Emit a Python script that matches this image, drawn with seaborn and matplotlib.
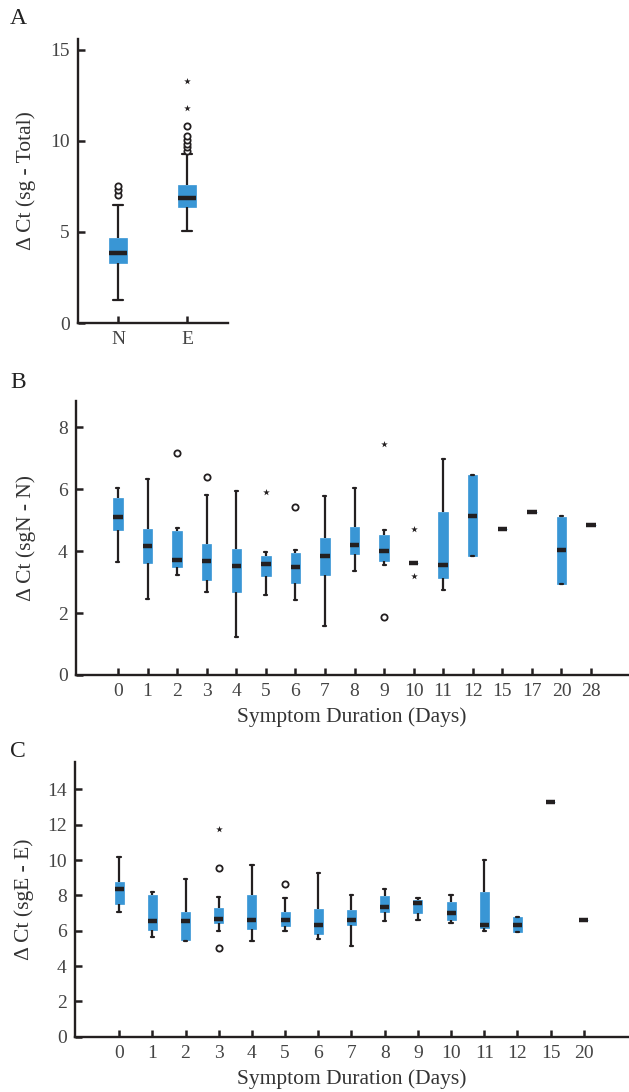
import matplotlib
matplotlib.use("Agg")
import matplotlib.pyplot as plt
import seaborn as sns
import numpy as np
import pandas as pd

# Five-number summaries: low whisker, Q1, median, Q3, high whisker

# Panel A - sg vs total, N and E genes
genes_a = ["N", "E"]
low_a = [1.25, 5.06]
q1_a = [3.30, 6.35]
med_a = [3.85, 6.84]
q3_a = [4.69, 7.56]
high_a = [6.47, 9.28]
circ_x_a = ["N", "N", "N", "E", "E", "E", "E", "E", "E"]
circ_y_a = [7.05, 7.33, 7.55, 9.45, 9.65, 9.85, 10.05, 10.25, 10.82]
star_x_a = ["E", "E"]
star_y_a = [11.79, 13.31]

# Panel B - sgN - N by symptom duration
days_b = ["0", "1", "2", "3", "4", "5", "6", "7", "8", "9", "10", "11", "12", "15", "17", "20", "28"]
low_b = [3.64, 2.46, 3.23, 2.68, 1.24, 2.59, 2.42, 1.59, 3.37, 3.56, 3.63, 2.76, 3.84, 4.70, 5.27, 2.94, 4.84]
q1_b = [4.68, 3.63, 3.50, 3.07, 2.69, 3.20, 2.98, 3.24, 3.90, 3.69, 3.63, 3.14, 3.84, 4.70, 5.27, 2.94, 4.84]
med_b = [5.11, 4.18, 3.71, 3.68, 3.52, 3.58, 3.49, 3.85, 4.21, 4.02, 3.63, 3.55, 5.15, 4.70, 5.27, 4.05, 4.84]
q3_b = [5.72, 4.70, 4.64, 4.23, 4.06, 3.84, 3.94, 4.41, 4.78, 4.52, 3.63, 5.26, 6.46, 4.70, 5.27, 5.11, 4.84]
high_b = [6.05, 6.34, 4.74, 5.81, 5.94, 3.98, 4.04, 5.78, 6.03, 4.68, 3.63, 6.96, 6.46, 4.70, 5.27, 5.13, 4.84]
circ_x_b = ["2", "3", "6", "9"]
circ_y_b = [7.18, 6.40, 5.44, 1.88]
star_x_b = ["5", "9", "10", "10"]
star_y_b = [5.92, 7.46, 4.70, 3.19]

# Panel C - sgE - E by symptom duration
days_c = ["0", "1", "2", "3", "4", "5", "6", "7", "8", "9", "10", "11", "12", "15", "20"]
low_c = [7.08, 5.62, 5.40, 5.98, 5.40, 5.98, 5.51, 5.15, 6.55, 6.62, 6.43, 5.96, 5.92, 13.28, 6.60]
q1_c = [7.53, 6.06, 5.50, 6.45, 6.11, 6.28, 5.83, 6.34, 7.08, 7.02, 6.62, 6.17, 5.92, 13.28, 6.60]
med_c = [8.34, 6.55, 6.55, 6.68, 6.58, 6.58, 6.32, 6.60, 7.36, 7.58, 7.02, 6.34, 6.34, 13.28, 6.60]
q3_c = [8.74, 8.00, 7.08, 7.26, 8.02, 7.04, 7.21, 7.15, 7.96, 7.72, 7.60, 8.17, 6.75, 13.28, 6.60]
high_c = [10.19, 8.17, 8.92, 7.89, 9.74, 7.87, 9.25, 8.02, 8.34, 7.83, 8.04, 9.98, 6.79, 13.28, 6.60]
circ_x_c = ["3", "3", "5"]
circ_y_c = [9.57, 5.00, 8.62]
star_x_c = ["3"]
star_y_c = [11.75]

BLUE = "#3996d5"
DARK = "#231f20"

sns.set_style("ticks")
plt.rcParams["font.family"] = ["Liberation Serif", "DejaVu Serif"]


def draw_panel(ax, cats, low, q1, med, q3, high, cx, cy, sx, sy, width, capw):
    # each group is given as its five-number summary, so whiskers go to min / max
    rows = []
    for c, vals in zip(cats, zip(low, q1, med, q3, high)):
        for v in vals:
            rows.append((c, v))
    df = pd.DataFrame(rows, columns=["cat", "val"])

    sns.boxplot(data=df, x="cat", y="val", order=cats, whis=np.inf, width=width,
                saturation=1, color=BLUE, linecolor=DARK, linewidth=1.6,
                showfliers=False, capwidths=capw,
                boxprops=dict(edgecolor=BLUE, linewidth=0.5),
                medianprops=dict(color=DARK, linewidth=3.2),
                ax=ax)
    sns.stripplot(x=cx, y=cy, order=cats, jitter=False, marker="o", color="white",
                  edgecolor=DARK, linewidth=1.3, size=4.5, ax=ax)
    sns.stripplot(x=sx, y=sy, order=cats, jitter=False, marker="*", color=DARK,
                  edgecolor=DARK, linewidth=0, size=5, ax=ax)

    sns.despine(ax=ax)
    for s in ["left", "bottom"]:
        ax.spines[s].set_linewidth(1.7)
        ax.spines[s].set_color(DARK)
    ax.tick_params(direction="in", length=5, width=1.8, color=DARK,
                   labelsize=14, labelcolor="#444444", pad=6)


fig = plt.figure(figsize=(6.29, 10.92), dpi=100)

ax_a = fig.add_axes([0.124, 0.7042, 0.2385, 0.2601])
draw_panel(ax_a, genes_a, low_a, q1_a, med_a, q3_a, high_a,
           circ_x_a, circ_y_a, star_x_a, star_y_a, 0.26, 0.14)
ax_a.set_xlim(-0.58, 1.59)
ax_a.set_ylim(0, 15.6)
ax_a.set_yticks([0, 5, 10, 15])
ax_a.set_xlabel("")
ax_a.set_ylabel("Δ Ct (sg - Total)", fontsize=15.5, color="#333333", labelpad=10)

ax_b = fig.add_axes([0.1208, 0.3819, 0.8776, 0.2512])
draw_panel(ax_b, days_b, low_b, q1_b, med_b, q3_b, high_b,
           circ_x_b, circ_y_b, star_x_b, star_y_b, 0.32, 0.1)
ax_b.set_xlim(-1.42, 17.25)
ax_b.set_ylim(0, 8.86)
ax_b.set_yticks([0, 2, 4, 6, 8])
ax_b.set_xlabel("Symptom Duration (Days)", fontsize=15.5, color="#333333", labelpad=5)
ax_b.set_ylabel("Δ Ct (sgN - N)", fontsize=15.5, color="#333333", labelpad=16)

ax_c = fig.add_axes([0.1192, 0.0506, 0.8808, 0.2513])
draw_panel(ax_c, days_c, low_c, q1_c, med_c, q3_c, high_c,
           circ_x_c, circ_y_c, star_x_c, star_y_c, 0.27, 0.1)
ax_c.set_xlim(-1.33, 15.36)
ax_c.set_ylim(0, 15.53)
ax_c.set_yticks([0, 2, 4, 6, 8, 10, 12, 14])
ax_c.set_xlabel("Symptom Duration (Days)", fontsize=15.5, color="#333333", labelpad=5)
ax_c.set_ylabel("Δ Ct (sgE - E)", fontsize=15.5, color="#333333", labelpad=9)

fig.text(0.016, 0.973, "A", fontsize=17, color="#222222", va="bottom")
fig.text(0.016, 0.640, "B", fontsize=17, color="#222222", va="bottom")
fig.text(0.016, 0.302, "C", fontsize=17, color="#222222", va="bottom")

fig.savefig("out.png", dpi=100)
